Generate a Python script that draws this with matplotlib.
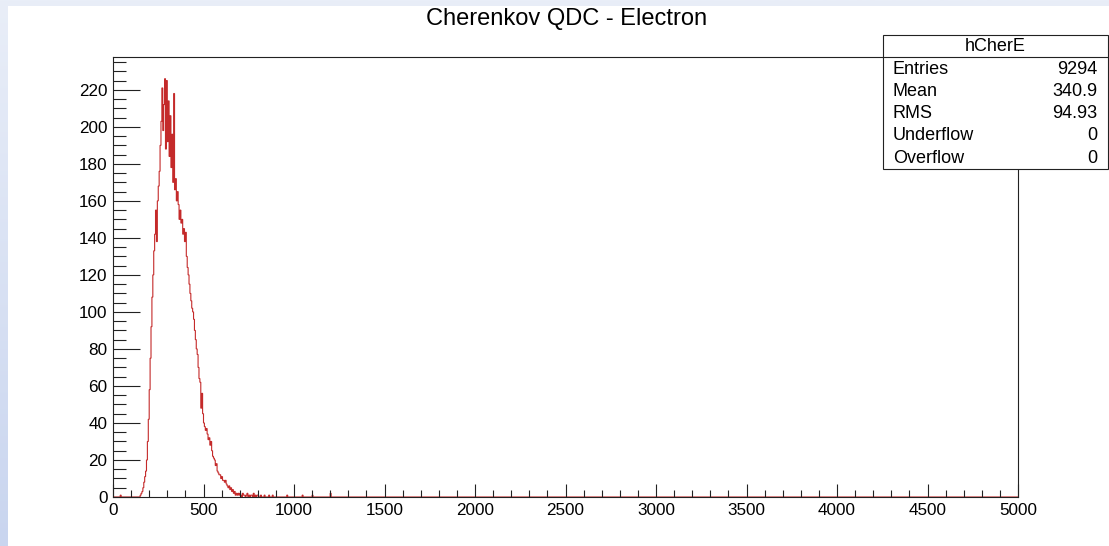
import numpy as np
import matplotlib
matplotlib.use("Agg")
import matplotlib.pyplot as plt
from matplotlib.patches import Rectangle
from matplotlib.lines import Line2D
from matplotlib.ticker import MultipleLocator

plt.rcParams['font.family'] = ['Liberation Sans', 'DejaVu Sans']

# ---- histogram definition ----
x_min, x_max = 0, 5000
n_bins = 1000
first_bin_value = 150          # low edge of the first entry in main_counts

main_counts = [
    1, 2, 3, 5, 8, 11, 14, 20, 30, 42,                      # 150-195
    58, 75, 92, 108, 120, 133, 142, 155, 138, 160,          # 200-245
    168, 176, 190, 203, 221, 198, 212, 226, 188, 225,       # 250-295
    192, 214, 184, 206, 178, 196, 170, 218, 166, 172,       # 300-345
    160, 165, 158, 150, 155, 148, 150, 142, 145, 138,       # 350-395
    143, 130, 124, 120, 115, 110, 106, 102, 100, 96,        # 400-445
    90, 85, 80, 77, 70, 64, 62, 48, 56, 45,                 # 450-495
    40, 38, 36, 37, 34, 31, 32, 28, 30, 25,                 # 500-545
    22, 21, 20, 17, 18, 14, 13, 12, 12, 10,                 # 550-595
    11, 9, 9, 8, 9, 7, 6, 5, 6, 4,                          # 600-645
    5, 3, 4, 2, 3, 1, 2, 1, 2, 1,                           # 650-695
    2, 1, 0, 2, 1, 1, 0, 1, 2, 0,                           # 700-745
    1, 0, 1, 1, 0, 2, 0, 1, 0, 1,                           # 750-795
]

# isolated entries outside the main peak: bin low edge, count
sparse_values = [40, 800, 815, 835, 860, 880, 960, 1045, 1100, 1200]
sparse_counts = [1, 1, 1, 1, 1, 1, 1, 1, 1, 2]

hist_title = "Cherenkov QDC - Electron"
stats_name = "hCherE"
stats_labels = ["Entries", "Mean", "RMS", "Underflow", "Overflow"]
stats_values = ["9294", "340.9", "94.93", "0", "0"]

x_major, x_minor = 500, 100
y_major, y_minor = 20, 5
y_top = 238

# ---- build bin contents ----
edges = np.linspace(x_min, x_max, n_bins + 1)
width = (x_max - x_min) / n_bins
counts = np.zeros(n_bins)
start = int(round((first_bin_value - x_min) / width))
counts[start:start + len(main_counts)] = main_counts
for v, c in zip(sparse_values, sparse_counts):
    counts[int(round((v - x_min) / width))] += c

# ---- figure ----
W, H = 1109, 546
fig = plt.figure(figsize=(W / 100, H / 100), dpi=100)


def fx(px):
    return px / W


def fy(py):
    return 1 - py / H


# bluish canvas border with a white pad on top
bg = fig.add_axes([0, 0, 1, 1], zorder=-10)
grad = np.linspace(0, 1, 256)[:, None]
cmap = matplotlib.colors.LinearSegmentedColormap.from_list("bg", ["#e9eef8", "#c9d5ef"])
bg.imshow(grad, aspect='auto', cmap=cmap, extent=[0, 1, 0, 1], origin='upper')
bg.add_patch(Rectangle((fx(8), 0), 1 - fx(8), fy(6), facecolor='white', edgecolor='none'))
bg.set_xlim(0, 1)
bg.set_ylim(0, 1)
bg.axis('off')

ax = fig.add_axes([fx(113), fy(497), fx(1018) - fx(113), fy(56.5) - fy(497)])
ax.set_facecolor('white')
ax.stairs(counts, edges, color='#c42a2a', linewidth=0.8)
ax.set_xlim(x_min, x_max)
ax.set_ylim(0, y_top)

for s in ax.spines.values():
    s.set_color('#222222')
    s.set_linewidth(0.8)

ax.xaxis.set_major_locator(MultipleLocator(x_major))
ax.xaxis.set_minor_locator(MultipleLocator(x_minor))
ax.yaxis.set_major_locator(MultipleLocator(y_major))
ax.yaxis.set_minor_locator(MultipleLocator(y_minor))
ax.tick_params(axis='x', which='major', direction='in', length=9.5, width=0.8,
               color='#222222', labelsize=12.3, pad=4)
ax.tick_params(axis='x', which='minor', direction='in', length=4.8, width=0.8, color='#222222')
ax.tick_params(axis='y', which='major', direction='in', length=19.5, width=0.8,
               color='#222222', labelsize=12.3, pad=4)
ax.tick_params(axis='y', which='minor', direction='in', length=9.5, width=0.8, color='#222222')
ax.tick_params(top=False, right=False)

fig.text(fx(567), fy(19), hist_title, ha='center', va='center', fontsize=17)

# ---- statistics box ----
bx0, bx1, by0, by1 = 883, 1108, 35, 169
fig.add_artist(Rectangle((fx(bx0), fy(by1)), fx(bx1) - fx(bx0), fy(by0) - fy(by1),
                         transform=fig.transFigure, facecolor='white',
                         edgecolor='#222222', linewidth=0.8, zorder=5))
fig.add_artist(Line2D([fx(bx0), fx(bx1)], [fy(57), fy(57)], transform=fig.transFigure,
                      color='#222222', linewidth=0.8, zorder=6))
fig.text(fx((bx0 + bx1) / 2), fy(46.5), stats_name, ha='center', va='center',
         fontsize=13, zorder=7)
row_y = [70, 91.5, 113.5, 136, 158]
for lab, val, yy in zip(stats_labels, stats_values, row_y):
    fig.text(fx(893), fy(yy), lab, ha='left', va='center', fontsize=13, zorder=7)
    fig.text(fx(1097), fy(yy), val, ha='right', va='center', fontsize=13, zorder=7)

fig.savefig("out.png", dpi=100)
